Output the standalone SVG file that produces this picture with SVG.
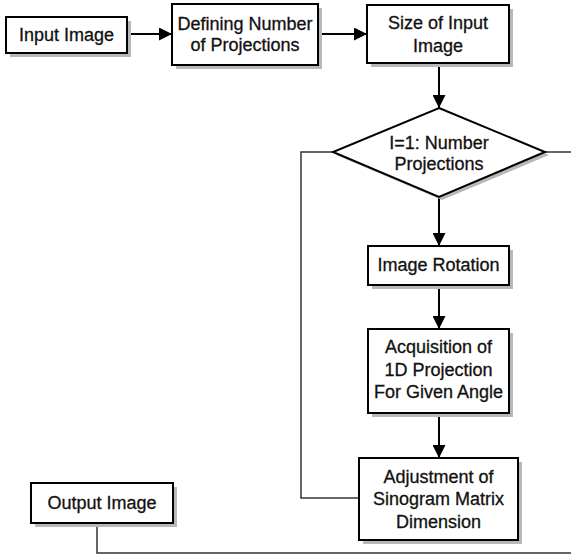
<svg xmlns="http://www.w3.org/2000/svg" width="571" height="556" viewBox="0 0 571 556">
<defs>
<style>
.box{fill:#fff;stroke:#000;stroke-width:2}
.sh{fill:#b8b8b8;stroke:none}
.t{font-family:"Liberation Sans",Arial,sans-serif;font-size:18px;fill:#111;stroke:#111;stroke-width:0.3;text-anchor:middle}
.arrow{fill:none;stroke:#000;stroke-width:2}
.line{fill:none;stroke:#333;stroke-width:1.5}
</style>
<marker id="ah" viewBox="0 0 13 13" refX="13" refY="6.5" markerWidth="13" markerHeight="13" markerUnits="userSpaceOnUse" orient="auto">
<path d="M0,0 L13,6.5 L0,13 Z" fill="#000"/>
</marker>
</defs>
<rect width="571" height="556" fill="#fff"/>
<g id="connectors">
<line class="arrow" x1="127" y1="34" x2="172" y2="34" marker-end="url(#ah)"/>
<line class="arrow" x1="318" y1="34" x2="367" y2="34" marker-end="url(#ah)"/>
<line class="arrow" x1="439" y1="63" x2="439" y2="108" marker-end="url(#ah)"/>
<line class="arrow" x1="439" y1="197" x2="439" y2="246" marker-end="url(#ah)"/>
<line class="arrow" x1="439" y1="285" x2="439" y2="329" marker-end="url(#ah)"/>
<line class="arrow" x1="439" y1="413" x2="439" y2="458" marker-end="url(#ah)"/>
<polyline class="line" points="333,152 301,152 301,498 359,498"/>
<line class="line" x1="545" y1="152" x2="571" y2="152"/>
<polyline class="line" points="97,523 97,553 571,553"/>
</g>
<g id="input-image">
<rect class="sh" x="10" y="21" width="121" height="36"/>
<rect class="box" x="6" y="17" width="121" height="36"/>
<text class="t" x="66.5" y="41">Input Image</text>
</g>
<g id="defining-number">
<rect class="sh" x="176" y="8" width="146" height="61"/>
<rect class="box" x="172" y="4" width="146" height="61"/>
<text class="t" x="245" y="30">Defining Number</text>
<text class="t" x="245" y="51">of Projections</text>
</g>
<g id="size-input">
<rect class="sh" x="371" y="9" width="142" height="58"/>
<rect class="box" x="367" y="5" width="142" height="58"/>
<text class="t" x="438" y="29">Size of Input</text>
<text class="t" x="438" y="52">Image</text>
</g>
<g id="decision">
<polygon class="sh" points="442,111 549,155 442,200 336,155"/>
<polygon class="box" points="439,108 545,152 439,197 333,152"/>
<text class="t" x="439" y="149">I=1: Number</text>
<text class="t" x="439" y="170">Projections</text>
</g>
<g id="image-rotation">
<rect class="sh" x="372" y="250" width="141" height="39"/>
<rect class="box" x="368" y="246" width="141" height="39"/>
<text class="t" x="438.5" y="271">Image Rotation</text>
</g>
<g id="acquisition">
<rect class="sh" x="372" y="333" width="141" height="84"/>
<rect class="box" x="368" y="329" width="141" height="84"/>
<text class="t" x="438.5" y="353">Acquisition of</text>
<text class="t" x="438.5" y="376">1D Projection</text>
<text class="t" x="438.5" y="398">For Given Angle</text>
</g>
<g id="adjustment">
<rect class="sh" x="363" y="462" width="159" height="82"/>
<rect class="box" x="359" y="458" width="159" height="82"/>
<text class="t" x="438.5" y="483">Adjustment of</text>
<text class="t" x="438.5" y="505">Sinogram Matrix</text>
<text class="t" x="438.5" y="528">Dimension</text>
</g>
<g id="output-image">
<rect class="sh" x="35" y="487" width="142" height="40"/>
<rect class="box" x="31" y="483" width="142" height="40"/>
<text class="t" x="102" y="509">Output Image</text>
</g>
</svg>
